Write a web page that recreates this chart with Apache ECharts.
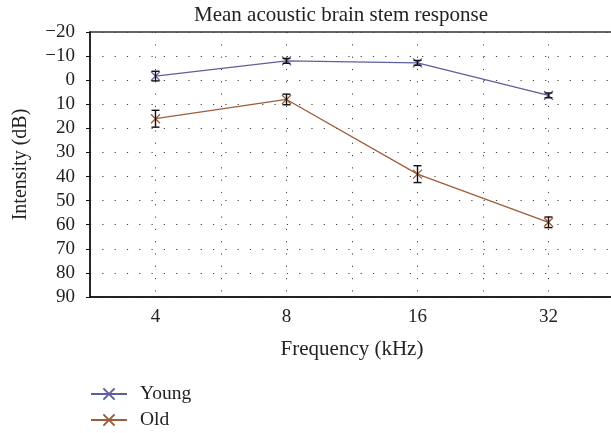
<!DOCTYPE html>
<html>
<head>
<meta charset="utf-8">
<script src="https://cdn.jsdelivr.net/npm/echarts@6/dist/echarts.min.js"></script>
<style>
  html, body { margin: 0; padding: 0; background: #fff; }
  #main { width: 611px; height: 433px; }
</style>
</head>
<body>
<div id="main"></div>
<script>
var freqs = ['4', '8', '16', '32'];
var young = [-1.7, -8, -7.2, 6.3];
var youngErr = [2, 1, 1, 1];
var old = [16, 8, 39, 59];
var oldErr = [3.5, 2.2, 3.5, 2.2];

var FONT = 'Liberation Serif';
var crossSym = 'path://M0,0L10,10M10,0L0,10';

var chartDom = document.getElementById('main');
var myChart = echarts.init(chartDom);

// categories sit at the odd positions of a 0..8 value axis, so dotted
// lines fall both on and between frequencies
const pos = i => 2 * i + 1;
const pts = vals => vals.map((v, i) => [pos(i), v]);
const errs = (vals, e) => vals.map((v, i) => [pos(i), v - e[i], v + e[i]]);

const dotted = { color: '#444', width: 1, type: [1.2, 11.1] };

function errorBars(name, data) {
  return {
    name: name + ' err',
    type: 'custom',
    z: 5,
    data: data,
    renderItem: function (params, api) {
      const x = api.value(0);
      const lo = api.coord([x, api.value(1)]);
      const hi = api.coord([x, api.value(2)]);
      const w = 4;
      const style = { stroke: '#111', lineWidth: 1.4 };
      return {
        type: 'group',
        children: [
          { type: 'line', shape: { x1: lo[0], y1: lo[1], x2: hi[0], y2: hi[1] }, style: style },
          { type: 'line', shape: { x1: lo[0] - w, y1: lo[1], x2: lo[0] + w, y2: lo[1] }, style: style },
          { type: 'line', shape: { x1: hi[0] - w, y1: hi[1], x2: hi[0] + w, y2: hi[1] }, style: style }
        ]
      };
    }
  };
}

function lineSeries(name, data, color) {
  return {
    name: name,
    type: 'line',
    data: data,
    symbol: crossSym,
    symbolSize: 9,
    z: 3,
    lineStyle: { color: color, width: 1.3 },
    itemStyle: { color: color, borderColor: color, borderWidth: 1.3 }
  };
}

var option = {
  animation: false,
  textStyle: { fontFamily: FONT },
  title: {
    text: 'Mean acoustic brain stem response',
    left: 341,
    textAlign: 'center',
    top: 5,
    padding: 0,
    textStyle: { fontFamily: FONT, fontSize: 21, fontWeight: 'normal', color: '#222' }
  },
  legend: {
    orient: 'vertical',
    left: 90,
    top: 384,
    height: 70,
    padding: 0,
    itemWidth: 36,
    itemHeight: 14,
    itemGap: 6,
    data: ['Young', 'Old'],
    textStyle: { fontFamily: FONT, fontSize: 19.5, color: '#222', padding: [0, 0, 0, 8] }
  },
  grid: {
    left: 90,
    width: 524,
    top: 32,
    bottom: 136,
    outerBoundsMode: 'none',
    show: true,
    borderColor: '#333',
    borderWidth: 1.3
  },
  xAxis: {
    type: 'value',
    min: 0,
    max: 8,
    interval: 1,
    name: 'Frequency (kHz)',
    nameLocation: 'middle',
    nameGap: 42,
    nameTextStyle: { fontFamily: FONT, fontSize: 21, color: '#222' },
    axisLine: { onZero: false, lineStyle: { color: '#111', width: 1.5 } },
    axisTick: { show: false },
    axisLabel: {
      fontFamily: FONT, fontSize: 19, color: '#222', margin: 11,
      formatter: v => (v % 2 === 1 ? freqs[(v - 1) / 2] : '')
    },
    splitLine: { show: true, lineStyle: dotted }
  },
  yAxis: {
    type: 'value',
    inverse: true,
    min: -20,
    max: 90,
    interval: 10,
    name: 'Intensity (dB)',
    nameLocation: 'middle',
    nameGap: 59,
    nameTextStyle: { fontFamily: FONT, fontSize: 20, color: '#222' },
    axisLine: { show: true, onZero: false, lineStyle: { color: '#111', width: 1.5 } },
    axisTick: { show: true, length: 4, lineStyle: { color: '#111' } },
    axisLabel: {
      fontFamily: FONT, fontSize: 19, color: '#222', margin: 15,
      formatter: v => (v < 0 ? '\u2212' + Math.abs(v) : String(v))
    },
    splitLine: { show: true, lineStyle: dotted }
  },
  series: [
    lineSeries('Young', pts(young), '#5f5f9f'),
    lineSeries('Old', pts(old), '#9d5d3b'),
    errorBars('Young', errs(young, youngErr)),
    errorBars('Old', errs(old, oldErr))
  ]
};

option && myChart.setOption(option);

window.onresize = function () {
  myChart.resize();
};
</script>
</body>
</html>
